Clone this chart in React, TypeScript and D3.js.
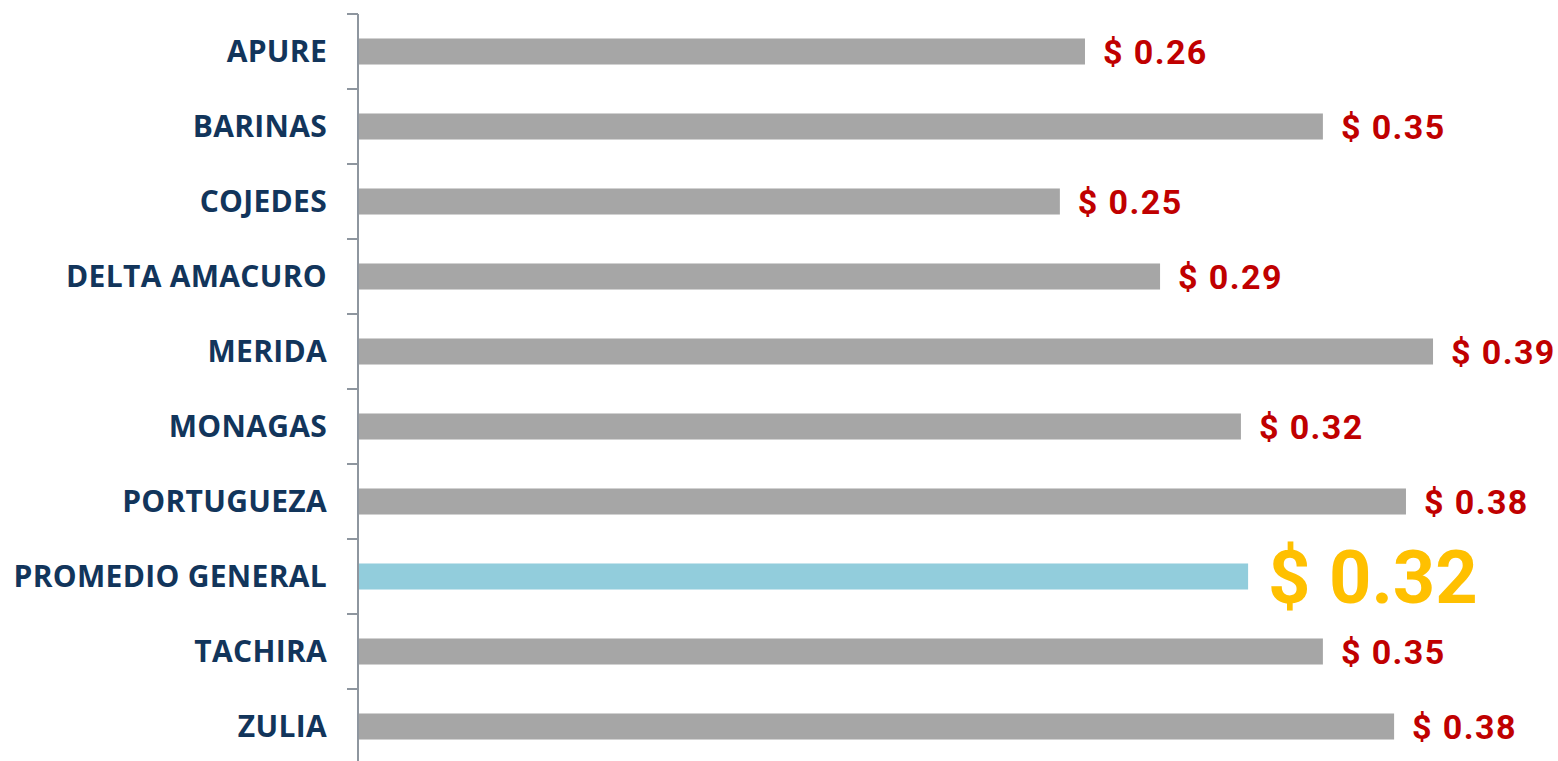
import React from "react";
import * as d3 from "d3";

const categories = [
  "APURE",
  "BARINAS",
  "COJEDES",
  "DELTA AMACURO",
  "MERIDA",
  "MONAGAS",
  "PORTUGUEZA",
  "PROMEDIO GENERAL",
  "TACHIRA",
  "ZULIA",
];
const values = [0.2634, 0.3496, 0.2543, 0.2906, 0.3895, 0.3199, 0.3797, 0.3225, 0.3496, 0.3754];
const highlight = "PROMEDIO GENERAL";

const W = 1558;
const H = 761;
const axisX = 358;
const top = 14;
const bottom = 764;

export default function App() {
  const x = d3.scaleLinear().domain([0, 0.4]).range([axisX, axisX + 0.4 * 2760]);
  const y = d3.scaleBand<string>().domain(categories).range([top, bottom]).paddingInner(0.653).paddingOuter(0.3265);
  const step = y.step();
  const ticks = d3.range(categories.length + 1).map((i) => top + i * step);
  return (
    <svg width={W} height={H} style={{ position: "absolute", left: 0, top: 0, display: "block" }}>
      <rect x={0} y={0} width={W} height={H} fill="#ffffff" />
      {categories.map((c, i) => {
        const isH = c === highlight;
        const yc = (y(c) as number) + y.bandwidth() / 2;
        const xe = x(values[i]);
        return (
          <g key={c}>
            <rect x={axisX} y={y(c)} width={xe - axisX} height={y.bandwidth()} fill={isH ? "#92CDDC" : "#A6A6A6"} />
            <text
              x={327}
              y={yc}
              dy="0.36em"
              textAnchor="end"
              fill="#12355B"
              style={{ fontFamily: "'Open Sans', sans-serif", fontWeight: 700, fontSize: 30, letterSpacing: 0.3 }}
            >
              {c}
            </text>
            <text
              x={xe + (isH ? 20 : 18)}
              y={yc}
              dy="0.36em"
              textAnchor="start"
              fill={isH ? "#FFC000" : "#C00000"}
              style={{
                fontFamily: "Roboto, sans-serif",
                fontWeight: 700,
                fontSize: isH ? 74 : 34,
                letterSpacing: isH ? 0 : 1.4,
              }}
            >
              {"$ " + d3.format(".2f")(values[i])}
            </text>
          </g>
        );
      })}
      <line x1={axisX} x2={axisX} y1={top} y2={H} stroke="#8E969F" strokeWidth={2} />
      {ticks.map((t, i) => (
        <line key={i} x1={axisX - 11} x2={axisX} y1={t} y2={t} stroke="#8E969F" strokeWidth={2} />
      ))}
    </svg>
  );
}
